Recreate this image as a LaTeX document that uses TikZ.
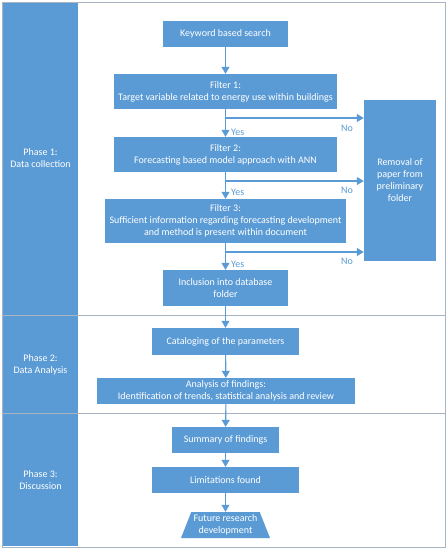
\documentclass[tikz,border=0pt]{standalone}
\usepackage{fontspec}
\setmainfont{Carlito}
\usetikzlibrary{arrows.meta,shapes.geometric}
\definecolor{obl}{HTML}{5B9BD5}
\definecolor{frm}{HTML}{A9B4C2}
\tikzset{
  box/.style={fill=obl, text=white, inner sep=0pt, align=center, font=\fontsize{10}{12}\selectfont},
  arr/.style={draw=obl, line width=1.1pt, -{Triangle[length=7pt,width=8pt]}},
  lbl/.style={text=obl, font=\fontsize{10}{12}\selectfont, inner sep=0pt},
  phase/.style={text=white, align=center, font=\fontsize{10}{12}\selectfont, inner sep=0pt}
}
\begin{document}
\begin{tikzpicture}[x=1pt,y=-1pt]
\useasboundingbox (0,0) rectangle (447,550);
% frame and phase column
\fill[white] (2,2) rectangle (445,547);
\fill[obl] (3,3) rectangle (78,546);
\draw[frm, line width=0.8pt] (2,2) rectangle (445,547);
\draw[frm, line width=0.8pt] (3,315) -- (445,315);
\draw[frm, line width=0.8pt] (3,413) -- (445,413);
\node[phase] (p1) at (40.5,158) {Phase 1:\\Data collection};
\node[phase] (p2) at (40.5,365) {Phase 2:\\Data Analysis};
\node[phase] (p3) at (40.5,480) {Phase 3:\\Discussion};
% boxes
\node[box, minimum width=125, minimum height=26] (kw) at (225.5,34) {Keyword based search};
\node[box, minimum width=223, minimum height=35] (f1) at (225.5,91.5) {Filter 1:\\Target variable related to energy use within buildings};
\node[box, minimum width=223, minimum height=35] (f2) at (225.5,154.5) {Filter 2:\\Forecasting based model approach with ANN};
\node[box, minimum width=241, minimum height=44] (f3) at (225.5,221) {Filter 3:\\Sufficient information regarding forecasting development\\and method is present within document};
\node[box, minimum width=125, minimum height=36] (inc) at (225.5,288) {Inclusion into database\\folder};
\node[box, minimum width=72, minimum height=161] (rem) at (400,180.5) {Removal of\\paper from\\preliminary\\folder};
\node[box, minimum width=147, minimum height=27] (cat) at (225.5,341.5) {Cataloging of the parameters};
\node[box, minimum width=258, minimum height=26] (ana) at (226,391) {Analysis of findings:\\Identification of trends, statistical analysis and review};
\node[box, minimum width=107, minimum height=26] (sum) at (225.5,440) {Summary of findings};
\node[box, minimum width=147, minimum height=26] (lim) at (225.5,480) {Limitations found};
\node[box, trapezium, trapezium left angle=63.4, trapezium right angle=63.4, trapezium stretches body, minimum width=89, minimum height=26] (fut) at (225.5,525) {Future research\\development};
% arrows
\draw[arr] (kw) -- (f1);
\draw[arr] (f1) -- (f2);
\draw[arr] (f2) -- (f3);
\draw[arr] (f3) -- (inc);
\draw[arr] (inc) -- (cat);
\draw[arr] (cat) -- (ana);
\draw[arr] (ana) -- (sum);
\draw[arr] (sum) -- (lim);
\draw[arr] (lim) -- (fut);
\coordinate (b1) at (225.5,118);
\coordinate (b2) at (225.5,181);
\coordinate (b3) at (225.5,252);
\draw[arr] (b1) -- (b1 -| rem.west);
\draw[arr] (b2) -- (b2 -| rem.west);
\draw[arr] (b3) -- (b3 -| rem.west);
\node[lbl, anchor=west] (y1) at (231,132) {Yes};
\node[lbl, anchor=west] (y2) at (231,192) {Yes};
\node[lbl, anchor=west] (y3) at (231,264) {Yes};
\node[lbl] (n1) at (347,128) {No};
\node[lbl] (n2) at (347,190) {No};
\node[lbl] (n3) at (347,261) {No};
\end{tikzpicture}
\end{document}
